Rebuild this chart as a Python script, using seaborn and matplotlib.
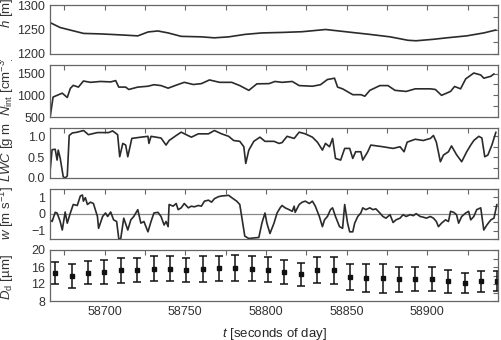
import matplotlib
matplotlib.use("Agg")
import matplotlib.pyplot as plt
import seaborn as sns
from matplotlib.ticker import MultipleLocator
from matplotlib.transforms import Bbox, TransformedBbox

# altitude h [m]
h_t = [58666.3, 58672.5, 58687.0, 58697.5, 58710.0, 58720.6, 58727.0, 58733.0,
       58739.4, 58747.5, 58760.0, 58768.0, 58777.0, 58787.0, 58797.5, 58810.0,
       58822.5, 58837.0, 58850.6, 58864.4, 58877.0, 58888.0, 58893.0, 58903.8,
       58912.0, 58924.4, 58935.0, 58942.5]
h_val = [1264, 1254, 1242, 1241, 1239, 1237, 1245, 1247,
         1243, 1236, 1235, 1233, 1235, 1240, 1243, 1244,
         1245.5, 1250, 1245, 1240, 1235, 1228, 1227, 1230,
         1233, 1237, 1243, 1249]

# integrated droplet number N_int [cm-3]
n_t = [58666.3, 58668.1, 58670.6, 58673.8, 58676.9, 58678.8, 58680.6, 58683.8,
       58686.9, 58691.3, 58697.5, 58703.8, 58706.9, 58708.8, 58713.1, 58715.0,
       58720.6, 58726.9, 58730.6, 58735.0, 58739.4, 58744.4, 58749.4, 58755.0,
       58760.0, 58765.0, 58771.3, 58778.8, 58783.8, 58789.4, 58794.4, 58801.9,
       58805.6, 58810.0, 58816.3, 58820.6, 58828.8, 58833.8, 58838.1, 58842.5,
       58844.4, 58847.5, 58853.8, 58858.8, 58861.3, 58864.4, 58870.6, 58875.6,
       58880.0, 58886.9, 58892.5, 58901.9, 58905.0, 58908.8, 58914.4, 58916.9,
       58920.6, 58923.8, 58928.8, 58933.1, 58935.0, 58939.4, 58941.3]
n_val = [500, 960, 1000, 1050, 950, 1160, 1230, 1190,
         1330, 1300, 1320, 1310, 1340, 1190, 1190, 1135,
         1190, 1210, 1245, 1225, 1165, 1235, 1300, 1250,
         1270, 1355, 1300, 1300, 1225, 1115, 1265, 1270,
         1320, 1300, 1320, 1225, 1210, 1245, 1365, 1395,
         1190, 1150, 1015, 1015, 980, 1115, 1225, 1225,
         1115, 1090, 1150, 1150, 1135, 1000, 1090, 1205,
         1150, 1380, 1515, 1470, 1395, 1440, 1495]

# liquid water content LWC [g m-3]
lwc_t = [58666.3, 58667.5, 58669.4, 58670.6, 58671.3, 58672.5, 58674.4, 58675.6,
         58676.9, 58678.1, 58680.0, 58683.1, 58687.0, 58690.0, 58695.6, 58702.5,
         58705.0, 58708.1, 58709.4, 58711.3, 58713.1, 58714.4, 58716.9, 58722.5,
         58726.9, 58727.5, 58728.8, 58735.0, 58738.1, 58740.0, 58744.4, 58747.5,
         58750.6, 58753.8, 58758.1, 58764.4, 58768.1, 58772.5, 58776.9, 58780.0,
         58783.8, 58786.3, 58787.5, 58789.4, 58792.5, 58796.3, 58799.4, 58805.0,
         58808.1, 58810.0, 58813.1, 58817.5, 58820.6, 58824.4, 58828.8, 58831.9,
         58835.0, 58836.9, 58839.4, 58841.3, 58843.1, 58846.3, 58848.8, 58851.9,
         58853.8, 58855.6, 58858.8, 58860.0, 58863.1, 58865.0, 58872.5, 58878.8,
         58883.1, 58885.6, 58887.5, 58892.5, 58897.5, 58901.9, 58903.8, 58905.6,
         58908.1, 58910.0, 58913.1, 58915.0, 58918.1, 58921.3, 58924.4, 58926.9,
         58928.8, 58931.9, 58933.8, 58935.6, 58937.5, 58940.0, 58942.5]
lwc_val = [0.19, 0.68, 0.69, 0.43, 0.67, 0.48, 0.03, 0.0,
           0.05, 1.02, 1.08, 1.10, 1.14, 1.04, 1.09, 1.09,
           1.13, 1.04, 0.51, 0.83, 0.79, 0.51, 0.95, 0.98,
           1.0, 0.83, 1.0, 0.96, 0.79, 0.9, 1.02, 1.10,
           1.04, 0.98, 1.06, 1.06, 1.14, 1.06, 1.0, 0.9,
           0.88, 0.75, 0.35, 0.67, 0.88, 0.98, 0.88, 0.88,
           0.83, 0.85, 1.0, 0.95, 1.10, 1.06, 0.98, 0.86,
           0.67, 0.83, 0.75, 0.95, 0.47, 0.43, 0.71, 0.71,
           0.47, 0.63, 0.63, 0.43, 0.63, 0.79, 0.75, 0.71,
           0.75, 0.63, 0.86, 0.93, 0.9, 0.95, 1.02, 0.86,
           0.39, 0.55, 0.63, 0.77, 0.56, 0.39, 0.63, 0.79,
           0.9, 1.0, 0.96, 0.51, 0.55, 0.79, 1.10]

# vertical wind w [m s-1]
w_t = [58666.3, 58667.5, 58669.4, 58670.6, 58672.5, 58673.8, 58675.6, 58676.9,
       58678.8, 58680.6, 58683.1, 58685.0, 58686.3, 58686.9, 58688.1, 58689.4,
       58691.3, 58693.1, 58695.6, 58696.3, 58698.8, 58700.6, 58701.9, 58703.8,
       58705.6, 58707.5, 58708.8, 58710.0, 58711.9, 58714.4, 58716.3, 58718.1,
       58720.6, 58722.5, 58724.4, 58726.9, 58728.8, 58730.6, 58733.1, 58735.0,
       58736.9, 58738.1, 58739.4, 58740.0, 58742.5, 58744.4, 58745.6, 58747.5,
       58749.4, 58751.9, 58753.8, 58755.6, 58758.1, 58760.0, 58761.9, 58764.4,
       58766.3, 58768.1, 58770.6, 58772.5, 58776.9, 58778.8, 58781.9, 58783.8,
       58785.0, 58786.9, 58789.4, 58793.1, 58795.6, 58797.5, 58799.4, 58800.6,
       58802.5, 58805.0, 58806.9, 58808.8, 58810.0, 58811.9, 58814.4, 58816.3,
       58817.5, 58818.1, 58820.6, 58822.5, 58824.4, 58826.9, 58828.8, 58830.6,
       58833.1, 58835.0, 58836.3, 58838.1, 58840.0, 58841.3, 58843.1, 58845.6,
       58847.5, 58848.8, 58850.6, 58851.9, 58853.8, 58855.0, 58856.9, 58858.8,
       58860.0, 58861.9, 58864.4, 58866.3, 58868.1, 58870.6, 58872.5, 58874.4,
       58876.9, 58878.8, 58880.6, 58883.1, 58885.0, 58886.9, 58889.4, 58891.3,
       58893.1, 58895.6, 58897.5, 58899.4, 58901.9, 58903.8, 58905.6, 58906.9,
       58908.8, 58911.3, 58913.1, 58914.4, 58916.3, 58918.1, 58919.4, 58921.3,
       58923.8, 58925.6, 58926.9, 58928.8, 58930.6, 58933.1, 58935.0, 58936.9,
       58939.4, 58941.3, 58943.1]
w_val = [-0.35, -0.45, 0.10, 0.06, -0.45, -0.96, 0.12, -0.55,
         0.06, 0.57, 0.51, 1.08, 1.14, 0.77, 0.98, 0.57,
         0.71, 0.63, -0.15, -0.86, -0.15, 0.06, -0.15, 0.12,
         -0.35, -0.45, -1.47, -1.5, -0.25, -0.96, -0.35, -0.15,
         0.26, -0.55, -0.45, -1.07, -0.45, 0.06, 0.10, -0.15,
         -0.66, -0.45, -0.76, 0.57, 0.47, 0.63, 0.26, 0.37,
         0.63, 0.37, 0.47, 0.43, 0.51, 0.47, 0.77, 0.83,
         0.71, 0.92, 1.04, 1.08, 1.12, 0.98, 0.77, 0.57,
         -0.15, -1.33, -1.47, -1.43, -1.41, -0.55, 0.06, -0.55,
         -1.17, -0.55, 0.06, 0.37, 0.51, 0.37, 0.26, 0.16,
         0.47, 0.10, 0.57, 0.71, 0.77, 0.63, 0.77, 0.47,
         -0.15, -0.76, -0.35, -0.15, 0.26, 0.37, -0.15, -0.76,
         -0.86, 0.57, -0.55, -1.07, -1.07, -0.55, -0.15, 0.06,
         0.37, 0.26, 0.37, 0.26, 0.31, 0.06, -0.15, -0.25,
         -0.04, -0.51, -0.35, -0.25, -0.04, -0.15, -0.04, -0.10,
         0.02, -0.15, -0.19, -0.25, -0.15, -0.25, -0.45, -0.76,
         -0.55, -0.35, -0.45, 0.16, 0.10, -0.04, -0.55, -0.15,
         0.06, 0.16, -0.35, -0.15, 0.26, 0.37, -0.96, -0.66,
         -0.35, -0.25, 0.57]

# mean droplet diameter D_d [um] with spread
d_t = [58669.5, 58679.6, 58689.8, 58699.9, 58710.1, 58720.2, 58730.4, 58740.5,
       58750.6, 58760.8, 58770.9, 58781.1, 58791.2, 58801.3, 58811.5, 58821.6,
       58831.8, 58841.9, 58852.1, 58862.2, 58872.3, 58882.5, 58892.6, 58902.8,
       58912.9, 58923.1, 58933.2, 58943.3]
d_mean = [14.5, 13.9, 14.65, 14.9, 15.2, 15.3, 15.6, 15.6,
          15.3, 15.5, 15.7, 15.8, 15.6, 15.4, 14.75, 14.25,
          15.3, 15.25, 13.65, 13.4, 13.3, 13.1, 13.2, 13.15,
          12.7, 12.35, 12.6, 12.75]
d_err = [2.6, 2.75, 2.7, 2.8, 2.95, 2.9, 3.0, 3.0,
         2.9, 3.0, 3.0, 3.1, 3.0, 2.9, 2.8, 2.65,
         3.1, 3.15, 3.05, 3.2, 3.3, 2.9, 2.8, 2.9,
         2.7, 2.35, 2.4, 2.35]

sns.set_style("white")
plt.rcParams.update({
    "font.family": ["Liberation Sans", "DejaVu Sans"],
    "mathtext.fontset": "custom",
    "mathtext.rm": "Liberation Sans",
    "mathtext.it": "Liberation Sans:italic",
    "axes.edgecolor": "#666666",
    "axes.linewidth": 0.9,
    "text.color": "#333333",
    "xtick.color": "#666666",
    "ytick.color": "#666666",
    "xtick.labelcolor": "#333333",
    "ytick.labelcolor": "#333333",
})

LINE = "#2b2b2b"

fig = plt.figure(figsize=(5.01, 3.4), dpi=100)
rows = [(5, 54), (65, 117), (128, 178), (189, 239), (250, 301)]
axes = []
for top, bot in rows:
    ax = fig.add_axes([50 / 501, 1 - bot / 340, 448 / 501, (bot - top) / 340])
    axes.append(ax)

series = [(h_t, h_val), (n_t, n_val), (lwc_t, lwc_val), (w_t, w_val)]
for ax, (tt, vv) in zip(axes[:4], series):
    sns.lineplot(x=tt, y=vv, ax=ax, color=LINE, linewidth=1.2, estimator=None)

axes[3].axhline(0, color="#888888", linewidth=0.9, zorder=0)

axes[4].errorbar(d_t, d_mean, yerr=d_err, fmt="s", color="#111111", markersize=3,
                 elinewidth=1.1, capsize=2.8, capthick=1.1)

ylims = [(1200, 1300), (500, 1700), (0, 1.2), (-1.5, 1.5), (8, 20)]
yticks = [[1200, 1250, 1300], [500, 1000, 1500], [0.0, 0.5, 1.0], [-1, 0, 1], [8, 12, 16, 20]]
yminor = [25, 250, 0.25, 0.5, 2]
yfmt = [None, None, "{:.1f}", None, None]
labels = [r"$h$ [m]", r"$N_{\rm int}$ [cm$^{-3}$]", r"$LWC$ [g m$^{-3}$]",
          r"$w$ [m s$^{-1}$]", r"$D_{\rm d}$ [µm]"]
label_base = [0.53, 0.02, -0.08, -0.02, 0.02]

for i, ax in enumerate(axes):
    ax.set_xlim(58666.2, 58943.8)
    ax.set_ylim(*ylims[i])
    ax.set_yticks(yticks[i])
    if yfmt[i]:
        ax.set_yticklabels([yfmt[i].format(v) for v in yticks[i]])
    ax.yaxis.set_minor_locator(MultipleLocator(yminor[i]))
    ax.xaxis.set_major_locator(MultipleLocator(50))
    ax.xaxis.set_minor_locator(MultipleLocator(25))
    ax.tick_params(which="both", direction="in", top=True, right=True,
                   length=3.5, width=0.8, labelsize=9, pad=3.5)
    ax.set_ylabel("")
    ax.set_xlabel("")
    if i < 4:
        ax.tick_params(labelbottom=False)
    txt = ax.text(-0.097, label_base[i], labels[i], transform=ax.transAxes,
                  rotation=90, ha="center", va="bottom", fontsize=9.5, color="#333333")
    clip = TransformedBbox(Bbox([[-0.2, -0.1], [0.0, 1.1]]), ax.transAxes)
    txt.set_clip_box(clip)
    txt.set_clip_on(True)

axes[4].set_xlabel(r"$t$ [seconds of day]", fontsize=9.5, labelpad=6)

fig.savefig("out.png", dpi=100)
